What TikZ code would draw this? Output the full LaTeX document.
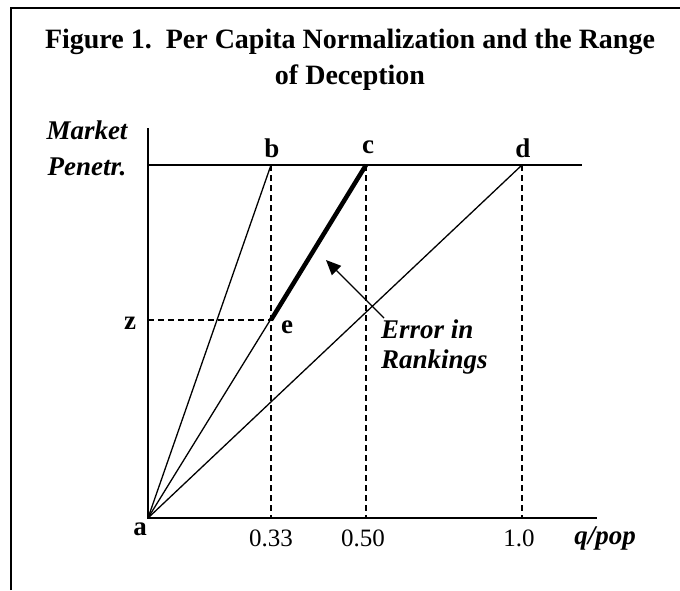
\documentclass[tikz,border=0pt]{standalone}
\usepackage{fontspec}
\setmainfont{Liberation Serif}
\usetikzlibrary{arrows.meta}
\begin{document}
\begin{tikzpicture}[x=1pt,y=-1pt,
  frameline/.style={line width=1.8pt},
  axis/.style={line width=1.7pt},
  ray/.style={line width=1.3pt},
  thickray/.style={line width=4.5pt},
  guide/.style={line width=1.3pt, dash pattern=on 6pt off 4pt},
  pointlbl/.style={font=\fontsize{27}{30}\selectfont\bfseries, inner sep=0pt},
  ticklbl/.style={font=\fontsize{25}{28}\selectfont, inner sep=0pt},
  itallbl/.style={font=\fontsize{27}{36}\selectfont\bfseries\itshape, inner sep=0pt},
  pointer/.style={line width=1.4pt, -{Triangle[length=15pt,width=13pt]}}]
\useasboundingbox (0,0) rectangle (680,590);
\draw[frameline] (11,590) -- (11,8) -- (680,8);
% title
\node[font=\fontsize{28}{36}\selectfont\bfseries, align=center, inner sep=0pt] (title) at (350,60)
  {Figure 1.\ \ Per Capita Normalization and the Range\\of Deception};
% coordinates
\coordinate (a) at (148,518);
\coordinate (ytop) at (148,128);
\coordinate (xend) at (597,518);
\coordinate (tl) at (148,165);
\coordinate (tr) at (582,165);
\coordinate (b) at (271,165);
\coordinate (c) at (366,165);
\coordinate (d) at (522,165);
\coordinate (e) at (271,320);
\coordinate (z) at (148,320);
\coordinate (b0) at (271,518);
\coordinate (c0) at (366,518);
\coordinate (d0) at (522,518);
\coordinate (tail) at (384,318);
\coordinate (head) at (326,260);
% axes
\draw[axis] (ytop) -- (a) -- (xend);
\draw[axis] (tl) -- (tr);
% guides
\draw[guide] (b) -- (b0);
\draw[guide] (c) -- (c0);
\draw[guide] (d) -- (d0);
\draw[guide] (z) -- (e);
% rays
\draw[ray] (a) -- (b);
\draw[ray] (a) -- (c);
\draw[ray] (a) -- (d);
\draw[thickray] (e) -- (c);
% pointer
\draw[pointer] (tail) -- (head);
% labels
\node[pointlbl] (lb) at (272,148) {b};
\node[pointlbl] (lc) at (368,147) {c};
\node[pointlbl] (ld) at (523,148) {d};
\node[pointlbl] (lz) at (130,323) {z};
\node[pointlbl] (le) at (287,327) {e};
\node[pointlbl] (la) at (140,529) {a};
\node[ticklbl] (t1) at (271,538) {0.33};
\node[ticklbl] (t2) at (363,538) {0.50};
\node[ticklbl] (t3) at (519,538) {1.0};
\node[itallbl] (xl) at (605,538) {q/pop};
\node[itallbl, align=center] (yl) at (87,148) {Market\\Penetr.};
\node[itallbl, align=left, anchor=north west, font=\fontsize{27}{30}\selectfont\bfseries\itshape] (err) at (381,320) {Error in\\Rankings};
\end{tikzpicture}
\end{document}
